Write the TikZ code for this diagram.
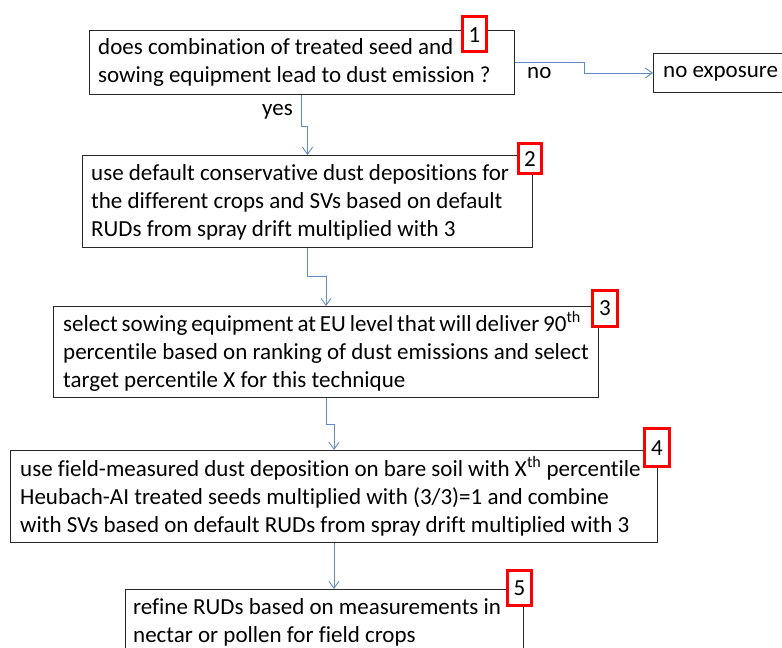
\documentclass[tikz,border=0pt]{standalone}
\usepackage{fontspec}
\setmainfont{Carlito}[Ligatures={NoCommon}]
\usetikzlibrary{arrows.meta}
\definecolor{connblue}{RGB}{95,140,200}
\definecolor{numred}{RGB}{255,0,0}
\definecolor{boxline}{RGB}{40,40,40}
\begin{document}
\begin{tikzpicture}[x=1pt,y=-1pt,
  stepbox/.style={draw=boxline, line width=1pt, fill=white, inner sep=0pt},
  txt/.style={anchor=north west, align=left, inner sep=0pt, text=black,
    font=\fontsize{23}{28}\selectfont},
  lbl/.style={anchor=base west, inner sep=0pt, text=black, font=\fontsize{23}{28}\selectfont},
  numbox/.style={draw=numred, line width=3pt, fill=white, inner sep=0pt},
  numtxt/.style={anchor=base, inner sep=0pt, text=black, font=\fontsize{23}{28}\selectfont},
  conn/.style={draw=connblue, line width=0.9pt, -{Straight Barb[length=7pt,width=10pt]}}
]
\clip (0,0) rectangle (782,648);
\fill[white] (0,0) rectangle (782,648);

% main boxes
\node[stepbox, minimum width=425pt, minimum height=64.5pt, anchor=north west] (b1) at (88.5,29.5) {};
\node[stepbox, minimum width=150pt, minimum height=39pt, anchor=north west] (nx) at (653,53) {};
\node[stepbox, minimum width=450pt, minimum height=92pt, anchor=north west] (b2) at (82,155) {};
\node[stepbox, minimum width=545pt, minimum height=91pt, anchor=north west] (b3) at (53,306) {};
\node[stepbox, minimum width=647pt, minimum height=92pt, anchor=north west] (b4) at (10,450) {};
\node[stepbox, minimum width=398pt, minimum height=100pt, anchor=north west] (b5) at (125,589) {};

% texts
\node[txt] (t1) at (98,34.75) {\strut does combination of treated seed and\\sowing equipment lead to dust emission ?};
\node[txt] (tnx) at (663,57.75) {\strut no exposure};
\node[txt] (t2) at (91,160.75) {\strut use default conservative dust depositions for\\the different crops and SVs based on default\\RUDs from spray drift multiplied with 3};
\node[txt] (t3) at (63,310.75) {\strut{\spaceskip=0.17em\relax select sowing equipment at EU level that will deliver 90\textsuperscript{th}}\\percentile based on ranking of dust emissions and select\\target percentile X for this technique};
\node[txt] (t4) at (20,455.75) {\strut use field-measured dust deposition on bare soil with X\textsuperscript{th} percentile\\Heubach-AI treated seeds multiplied with (3/3)=1 and combine\\with SVs based on default RUDs from spray drift multiplied with 3};
\node[txt] (t5) at (133,594.25) {\strut refine RUDs based on measurements in\\nectar or pollen for field crops};

% connectors
\draw[conn] (b1.south) -- ++(0,31) -| (b2.north);
\draw[conn] (b2.south) -- ++(0,28) -| (b3.north);
\draw[conn] (b3.south) -- ++(0,26) -| (b4.north);
\draw[conn] (b4.south) -- (b4.south |- b5.north);
\draw[conn] (b1.east) -- ++(69.5,0) |- (nx.west);

% branch labels
\node[lbl] (lno) at (527,78) {no};
\node[lbl] (lyes) at (262,115) {yes};

% numbered red boxes
\node[numbox, minimum width=24pt, minimum height=35pt] (n1) at (474.5,34) {};
\node[numtxt] (n1t) at (474.5,42) {1};
\node[numbox, minimum width=23pt, minimum height=30pt] (n2) at (530,158.5) {};
\node[numtxt] (n2t) at (530,166) {2};
\node[numbox, minimum width=25pt, minimum height=36pt] (n3) at (605,308.5) {};
\node[numtxt] (n3t) at (605,315) {3};
\node[numbox, minimum width=25pt, minimum height=38pt] (n4) at (657,447.5) {};
\node[numtxt] (n4t) at (657,455) {4};
\node[numbox, minimum width=24pt, minimum height=35pt] (n5) at (519.5,588) {};
\node[numtxt] (n5t) at (519.5,595) {5};
\end{tikzpicture}
\end{document}
